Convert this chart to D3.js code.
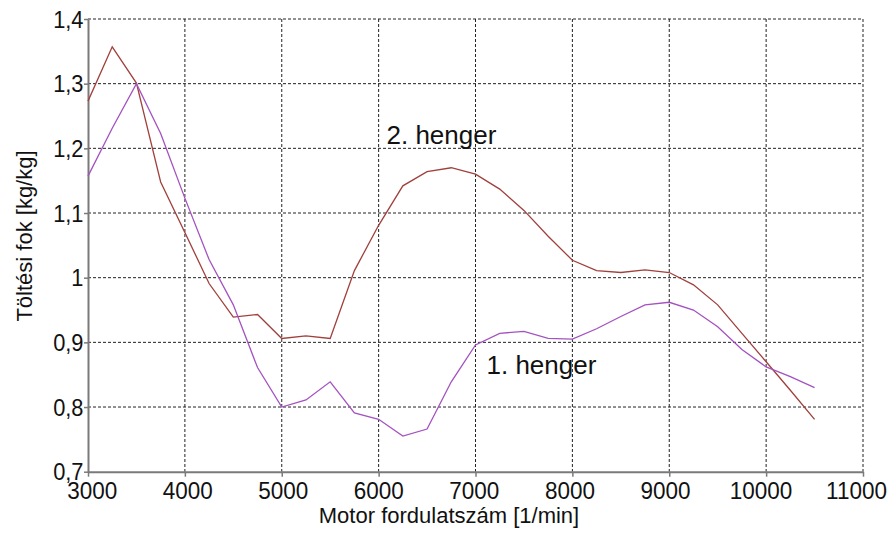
<!DOCTYPE html>
<html>
<head>
<meta charset="utf-8">
<script src="https://cdn.jsdelivr.net/npm/d3@7"></script>
<style>
  html, body { margin: 0; padding: 0; background: #fff; }
  svg { display: block; font-family: "Liberation Sans", Arial, sans-serif; }
</style>
</head>
<body>
<svg id="chart" width="890" height="539"></svg>
<script>
// Engine speed samples [1/min]
const rpm = [3000, 3250, 3500, 3750, 4000, 4250, 4500, 4750, 5000, 5250, 5500, 5750,
             6000, 6250, 6500, 6750, 7000, 7250, 7500, 7750, 8000, 8250, 8500, 8750,
             9000, 9250, 9500, 9750, 10000, 10250, 10500];

// Volumetric efficiency, cylinder 1 [kg/kg]
const cyl1 = [1.157, 1.231, 1.300, 1.223, 1.123, 1.028, 0.958, 0.861, 0.800, 0.811, 0.839, 0.791,
              0.781, 0.755, 0.766, 0.839, 0.896, 0.914, 0.917, 0.906, 0.905, 0.921, 0.940, 0.958,
              0.962, 0.950, 0.924, 0.889, 0.862, 0.847, 0.830];

// Volumetric efficiency, cylinder 2 [kg/kg]
const cyl2 = [1.273, 1.357, 1.301, 1.148, 1.070, 0.991, 0.939, 0.943, 0.906, 0.910, 0.906, 1.011,
              1.081, 1.142, 1.164, 1.170, 1.160, 1.137, 1.104, 1.064, 1.027, 1.011, 1.008, 1.012,
              1.008, 0.989, 0.958, 0.914, 0.870, 0.826, 0.781];

const xTicks = [3000, 4000, 5000, 6000, 7000, 8000, 9000, 10000, 11000];
const yTicks = [0.7, 0.8, 0.9, 1.0, 1.1, 1.2, 1.3, 1.4];

const svg = d3.select("#chart");
const plotL = 88, plotR = 863, plotT = 19, plotB = 471.7;

const x = d3.scaleLinear().domain([3000, 11000]).range([plotL, plotR]);
const y = d3.scaleLinear().domain([0.7, 1.4]).range([plotB, plotT]);
// tick labels along the bottom sit on a slightly tighter spacing than the ticks
const xLabel = d3.scaleLinear().domain([3000, 11000]).range([91.7, 856]);

const fmtY = v => (v === 1 ? "1" : d3.format(".1f")(v).replace(".", ","));

// dashed grid
const grid = svg.append("g");
grid.selectAll("line.h").data(yTicks.filter(v => v > 0.7)).join("line")
  .attr("x1", plotL).attr("x2", plotR)
  .attr("y1", d => y(d)).attr("y2", d => y(d))
  .attr("stroke", "#222").attr("stroke-width", 1).attr("stroke-dasharray", "3,2");
grid.selectAll("line.v").data(xTicks.filter(v => v > 3000)).join("line")
  .attr("y1", plotT).attr("y2", plotB)
  .attr("x1", d => x(d)).attr("x2", d => x(d))
  .attr("stroke", "#222").attr("stroke-width", 1).attr("stroke-dasharray", "3,2");

// axes
const xAxis = svg.append("g").attr("transform", `translate(0,${plotB})`)
  .call(d3.axisBottom(x).tickValues(xTicks).tickSize(5).tickSizeOuter(0).tickFormat(d3.format("d")));
const yAxis = svg.append("g").attr("transform", `translate(${plotL},0)`)
  .call(d3.axisLeft(y).tickValues(yTicks).tickSize(4).tickSizeOuter(0).tickFormat(fmtY));

[xAxis, yAxis].forEach(a => {
  a.select(".domain").attr("stroke", "#7a7a7a").attr("stroke-width", 2);
  a.selectAll(".tick line").attr("stroke", "#7a7a7a").attr("stroke-width", 1.5);
  a.selectAll(".tick text").attr("fill", "#111").attr("font-size", 22.5)
    .attr("font-family", "Liberation Sans, Arial, sans-serif");
});
xAxis.selectAll(".tick text")
  .attr("dy", null).attr("y", 0)
  .attr("transform", d => `translate(${xLabel(d) - x(d)},27.5) scale(1,1.08)`);
yAxis.selectAll(".tick text").attr("x", 0).attr("dy", null)
  .attr("transform", "translate(-4.5,8) scale(0.97,1.08)");

// series lines
const line = vals => d3.line().x((d, i) => x(rpm[i])).y(d => y(d))(vals);
svg.append("path").attr("d", line(cyl2)).attr("fill", "none")
  .attr("stroke", "#a0403c").attr("stroke-width", 1.3);
svg.append("path").attr("d", line(cyl1)).attr("fill", "none")
  .attr("stroke", "#a452c0").attr("stroke-width", 1.3);

// annotations
svg.append("text").attr("x", 386.5).attr("y", 143.5).attr("font-size", 26)
  .attr("fill", "#111").text("2. henger");
svg.append("text").attr("x", 486.5).attr("y", 373.5).attr("font-size", 26)
  .attr("fill", "#111").text("1. henger");

// axis titles
svg.append("text").attr("x", 449).attr("y", 523).attr("text-anchor", "middle")
  .attr("font-size", 22).attr("fill", "#111").text("Motor fordulatszám [1/min]");
svg.append("text").attr("transform", "translate(32,236) rotate(-90)")
  .attr("text-anchor", "middle").attr("font-size", 22).attr("fill", "#111")
  .text("Töltési fok [kg/kg]");
</script>
</body>
</html>
